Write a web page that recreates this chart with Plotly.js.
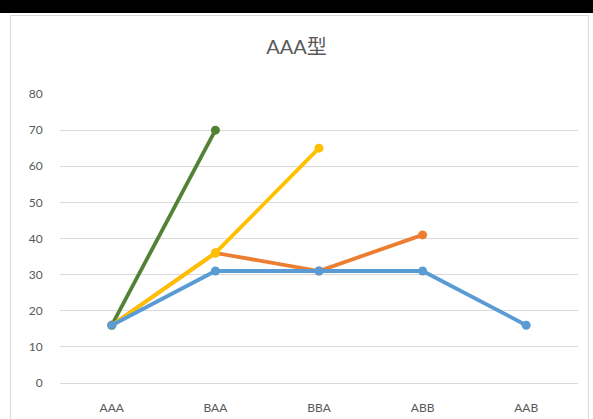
<!DOCTYPE html>
<html>
<head>
<meta charset="utf-8">
<script src="https://cdn.plot.ly/plotly-3.0.1.min.js"></script>
<style>
  html, body { margin: 0; padding: 0; background: #ffffff; }
  #wrap { position: relative; width: 593px; height: 419px; overflow: hidden; }
  #topbar { position: absolute; left: 0; top: 0; width: 593px; height: 13px; background: #000; z-index: 2; }
  #frame { position: absolute; left: 10px; top: 15px; width: 579px; height: 420px; border: 1px solid #d9d9d9; box-sizing: border-box; z-index: 2; pointer-events: none; }
  #chart { position: absolute; left: 0; top: 0; width: 593px; height: 419px; }
</style>
</head>
<body>
<div id="wrap">
  <div id="chart"></div>
  <div id="topbar"></div>
  <div id="frame"></div>
</div>
<script>
// Category labels along the x axis
const categories = ["AAA", "BAA", "BBA", "ABB", "AAB"];

// Series values (null where a series stops)
const seriesGreen  = [16, 70, null, null, null];
const seriesOrange = [16, 36, 31, 41, null];
const seriesYellow = [16, 36, 65, null, null];
const seriesBlue   = [16, 31, 31, 31, 16];

const yTicks = [0, 10, 20, 30, 40, 50, 60, 70, 80];

function lineTrace(values, color) {
  return {
    x: categories,
    y: values,
    type: "scatter",
    mode: "lines+markers",
    line: { color: color, width: 3.8 },
    marker: { color: color, size: 9 },
    connectgaps: false,
    hoverinfo: "skip",
    showlegend: false
  };
}

const data = [
  lineTrace(seriesGreen, "#548235"),
  lineTrace(seriesOrange, "#ED7D31"),
  lineTrace(seriesYellow, "#FFC000"),
  lineTrace(seriesBlue, "#5B9BD5")
];

const fontFamily = "Lato, 'Noto Sans CJK SC', sans-serif";

const layout = {
  width: 593,
  height: 419,
  margin: { l: 60, r: 15, t: 94, b: 36 },
  paper_bgcolor: "#ffffff",
  plot_bgcolor: "#ffffff",
  font: { family: fontFamily, color: "#595959", size: 12 },
  title: {
    text: "AAA型",
    font: { family: fontFamily, size: 20, color: "#595959" },
    x: 0.5,
    xanchor: "center",
    y: 1 - 47 / 419,
    yanchor: "middle"
  },
  xaxis: {
    type: "category",
    tickvals: categories,
    ticktext: categories,
    range: [-0.5, categories.length - 0.5],
    showgrid: false,
    showline: true,
    linecolor: "#d9d9d9",
    linewidth: 1,
    zeroline: false,
    ticks: "outside",
    ticklen: 14,
    tickcolor: "rgba(0,0,0,0)",
    tickfont: { family: fontFamily, size: 12, color: "#595959" },
    fixedrange: true
  },
  yaxis: {
    range: [0, 80],
    tickvals: yTicks,
    ticktext: yTicks.map(String),
    showgrid: true,
    gridcolor: "#d9d9d9",
    gridwidth: 1,
    zeroline: false,
    showline: false,
    ticks: "outside",
    ticklen: 14,
    tickcolor: "rgba(0,0,0,0)",
    tickfont: { family: fontFamily, size: 12, color: "#595959" },
    fixedrange: true
  }
};

Plotly.newPlot("chart", data, layout, { displayModeBar: false, staticPlot: true });
</script>
</body>
</html>
